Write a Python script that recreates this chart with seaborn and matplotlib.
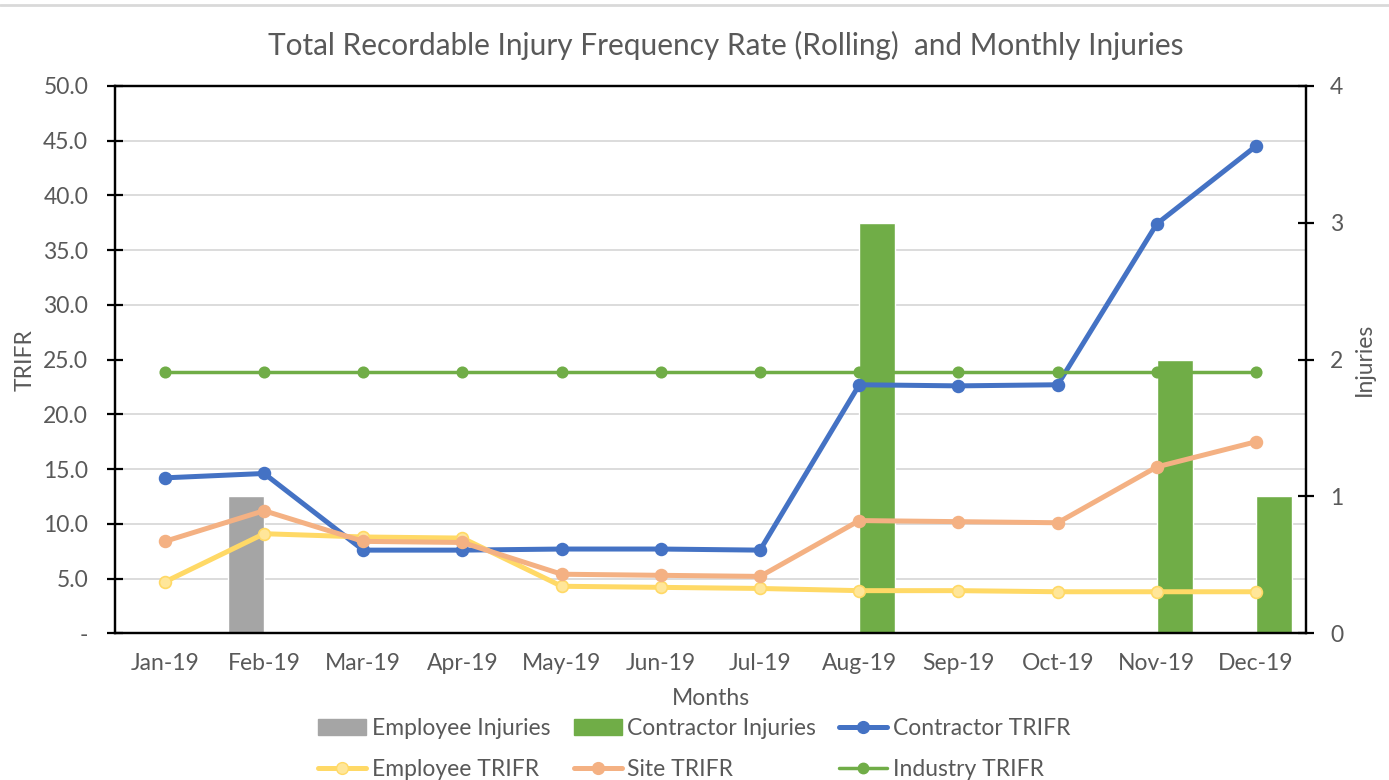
import pandas as pd
import matplotlib.pyplot as plt
import seaborn as sns
import numpy as np
from matplotlib.lines import Line2D
from matplotlib.patches import Patch
from matplotlib.ticker import FuncFormatter

sns.set_theme(style="white")
plt.rcParams['font.family'] = ['Lato', 'DejaVu Sans']

# 数据
months = ['Jan-19', 'Feb-19', 'Mar-19', 'Apr-19', 'May-19', 'Jun-19',
          'Jul-19', 'Aug-19', 'Sep-19', 'Oct-19', 'Nov-19', 'Dec-19']
employee_injuries = [0, 1, 0, 0, 0, 0, 0, 0, 0, 0, 0, 0]
contractor_injuries = [0, 0, 0, 0, 0, 0, 0, 3, 0, 0, 2, 1]
contractor_trifr = [14.2, 14.6, 7.6, 7.6, 7.7, 7.7, 7.6, 22.7, 22.6, 22.7, 37.4, 44.5]
employee_trifr = [4.7, 9.1, 8.8, 8.7, 4.3, 4.2, 4.1, 3.9, 3.9, 3.8, 3.8, 3.8]
site_trifr = [8.4, 11.2, 8.4, 8.3, 5.4, 5.3, 5.2, 10.3, 10.2, 10.1, 15.2, 17.5]
industry_trifr = [23.9] * 12

grey_txt = '#595959'
c_emp_bar = '#a5a5a5'
c_green = '#70ad47'
c_blue = '#4472c4'
c_yellow = '#ffd966'
c_orange = '#f4b183'
fs = 16.5

bars = pd.DataFrame({
    'Month': months * 2,
    'Injuries': employee_injuries + contractor_injuries,
    'Type': ['Employee Injuries'] * 12 + ['Contractor Injuries'] * 12,
})

fig = plt.figure(figsize=(13.89, 7.8), dpi=100)
ax = fig.add_axes([0.083, 0.188, 0.857, 0.702])
ax2 = ax.twinx()

# 柱状图放在右轴（在下层）
sns.barplot(data=bars, x='Month', y='Injuries', hue='Type',
            palette=[c_emp_bar, c_green], width=0.73, dodge=True,
            ax=ax2, legend=False, saturation=1)
ax2.set_ylim(0, 4)
ax2.set_yticks(range(5))
ax2.set_yticks(np.arange(0, 4.01, 0.4), minor=True)
ax2.grid(True, which='minor', axis='y', color='#d9d9d9', lw=1.3)
ax2.set_axisbelow(True)

# 折线放在左轴（上层）
ax.set_zorder(ax2.get_zorder() + 1)
ax.patch.set_visible(False)

series = [
    (contractor_trifr, c_blue, c_blue, 3.6, 8.5),
    (employee_trifr, c_yellow, '#ffe699', 3.6, 8.5),
    (site_trifr, c_orange, c_orange, 3.6, 8.5),
    (industry_trifr, c_green, c_green, 2.5, 7.5),
]
for vals, col, face, lw, ms in series:
    sns.pointplot(x=months, y=vals, ax=ax, color=col, markers='o',
                  errorbar=None, linewidth=lw, markersize=ms,
                  markerfacecolor=face, markeredgecolor=col, markeredgewidth=1.2)

ax.set_ylim(0, 50)
ax.set_yticks(np.arange(0, 50.1, 5))
ax.yaxis.set_major_formatter(FuncFormatter(lambda v, p: '-' if v == 0 else f'{v:.1f}'))
ax.set_xlim(-0.5, 11.5)

for a in (ax, ax2):
    for s in a.spines.values():
        s.set_color('black')
        s.set_linewidth(1.6)
ax.tick_params(axis='y', direction='inout', length=11, width=1.6, colors='black',
               labelcolor=grey_txt, labelsize=fs, pad=14)
ax.tick_params(axis='x', length=0, labelcolor=grey_txt, labelsize=fs, pad=14)
ax2.tick_params(axis='y', which='major', direction='inout', length=11, width=1.6,
                colors='black', labelcolor=grey_txt, labelsize=fs, pad=12)
ax2.tick_params(axis='y', which='minor', length=0)

ax.set_xlabel('Months', color=grey_txt, fontsize=fs, labelpad=10)
ax.set_ylabel('TRIFR', color=grey_txt, fontsize=fs)
ax.yaxis.set_label_coords(-0.067, 0.5)
ax2.set_ylabel('Injuries', color=grey_txt, fontsize=fs, labelpad=8)
ax.set_title('Total Recordable Injury Frequency Rate (Rolling)  and Monthly Injuries',
             color=grey_txt, fontsize=21.4, pad=22, x=0.5126)

handles = [
    Patch(color=c_emp_bar, label='Employee Injuries'),
    Line2D([], [], color=c_yellow, lw=3.6, marker='o', ms=8.5, mfc='#ffe699', label='Employee TRIFR'),
    Patch(color=c_green, label='Contractor Injuries'),
    Line2D([], [], color=c_orange, lw=3.6, marker='o', ms=8.5, label='Site TRIFR'),
    Line2D([], [], color=c_blue, lw=3.6, marker='o', ms=8.5, label='Contractor TRIFR'),
    Line2D([], [], color=c_green, lw=2.5, marker='o', ms=7.5, label='Industry TRIFR'),
]
leg = fig.legend(handles=handles, ncol=3, loc='upper center', bbox_to_anchor=(0.5, 0.079),
                 frameon=False, fontsize=fs, labelspacing=0.85, handlelength=2.1,
                 handletextpad=0.25, columnspacing=1.0, labelcolor=grey_txt,
                 borderaxespad=0, borderpad=0)

# 顶部浅灰边框线
fig.add_artist(Line2D([0, 1], [0.994, 0.994], color='#d9d9d9', lw=2, transform=fig.transFigure))

plt.savefig('out.png', dpi=100)
